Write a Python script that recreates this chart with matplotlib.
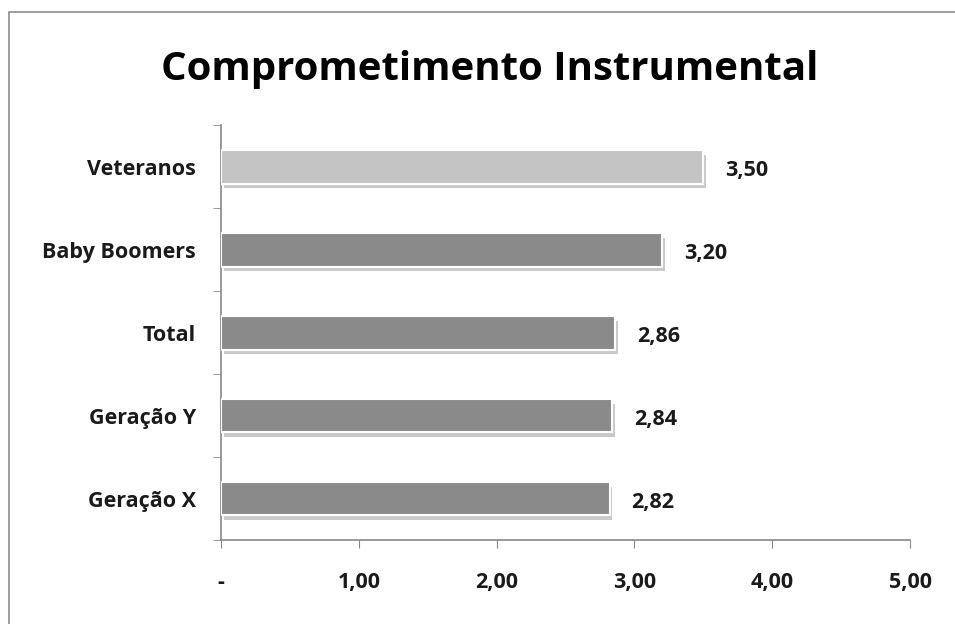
import matplotlib
matplotlib.use("Agg")
import matplotlib.pyplot as plt
import matplotlib.patheffects as pe
from matplotlib.patches import Rectangle

categories = ["Geração X", "Geração Y", "Total", "Baby Boomers", "Veteranos"]
values = [2.82, 2.84, 2.86, 3.20, 3.50]
colors = ["#8a8a8a", "#8a8a8a", "#8a8a8a", "#8a8a8a", "#c4c4c4"]
xticks = [0, 1, 2, 3, 4, 5]
xticklabels = ["-", "1,00", "2,00", "3,00", "4,00", "5,00"]
title = "Comprometimento Instrumental"

plt.rcParams['font.family'] = ['Open Sans', 'DejaVu Sans']

fig = plt.figure(figsize=(9.55, 6.24), dpi=100)
fig.patches.append(Rectangle((0.009, -0.01), 1.0, 0.99, transform=fig.transFigure,
                             fill=False, edgecolor="#8c8c8c", linewidth=1.2))
ax = fig.add_axes([0.2314, 0.134, 0.7215, 0.665])

y = list(range(len(categories)))
bars = ax.barh(y, values, height=0.40, color=colors, edgecolor="white", linewidth=1.5, zorder=3)
for b in bars:
    b.set_path_effects([pe.SimplePatchShadow(offset=(2, -3.5), shadow_rgbFace="#666666", alpha=0.35),
                        pe.Normal()])

for yi, v in zip(y, values):
    ax.text(v + 0.16, yi - 0.04, f"{v:.2f}".replace(".", ","), va="center", ha="left",
            fontsize=15.5, fontweight="bold", color="#1a1a1a")

ax.set_xlim(0, 5)
ax.set_ylim(-0.5, len(categories) - 0.5)
ax.set_xticks(xticks)
ax.set_xticklabels(xticklabels, fontsize=15.5, fontweight="bold", color="#1a1a1a")
ax.set_yticks(y)
ax.set_yticklabels(categories, fontsize=15.5, fontweight="bold", color="#1a1a1a")
ax.set_yticks([i - 0.5 for i in range(len(categories) + 1)], minor=True)
ax.tick_params(axis="y", which="major", length=0, pad=18)
ax.tick_params(axis="y", which="minor", length=6, color="#888888", direction="out")
ax.tick_params(axis="x", length=6, color="#888888", direction="out", pad=17)

for s in ["top", "right"]:
    ax.spines[s].set_visible(False)
for s in ["left", "bottom"]:
    ax.spines[s].set_color("#888888")
    ax.spines[s].set_linewidth(1.2)

fig.text(0.513, 0.888, title, ha="center", va="center", fontsize=29, fontweight="bold", color="black")

fig.savefig("out.png", dpi=100)
